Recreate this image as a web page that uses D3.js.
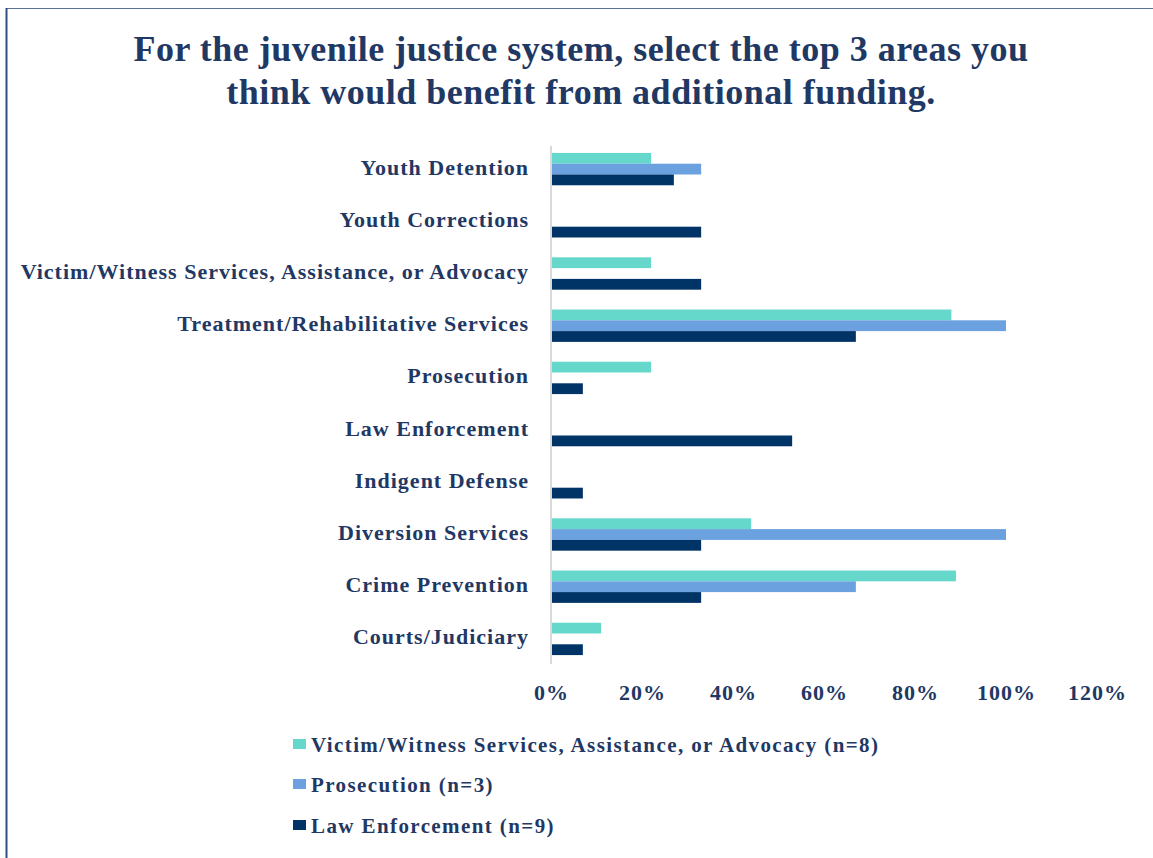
<!DOCTYPE html>
<html>
<head>
<meta charset="utf-8">
<script src="https://cdn.jsdelivr.net/npm/d3@7"></script>
<style>
  html, body { margin: 0; padding: 0; background: #fff; }
  text { font-family: "Liberation Serif", "Times New Roman", serif; font-weight: bold; fill: #1F3864; }
</style>
</head>
<body>
<svg id="chart" width="1153" height="858"></svg>
<script>
const categories = [
  "Youth Detention",
  "Youth Corrections",
  "Victim/Witness Services, Assistance, or Advocacy",
  "Treatment/Rehabilitative Services",
  "Prosecution",
  "Law Enforcement",
  "Indigent Defense",
  "Diversion Services",
  "Crime Prevention",
  "Courts/Judiciary"
];
const seriesNames = [
  "Victim/Witness Services, Assistance, or Advocacy (n=8)",
  "Prosecution (n=3)",
  "Law Enforcement (n=9)"
];
const victimValues = [0.22, 0, 0.22, 0.88, 0.22, 0, 0, 0.44, 0.89, 0.11];
const prosecutionValues = [0.33, 0, 0, 1.00, 0, 0, 0, 1.00, 0.67, 0];
const lawValues = [0.27, 0.33, 0.33, 0.67, 0.07, 0.53, 0.07, 0.33, 0.33, 0.07];
const tickValues = [0, 0.2, 0.4, 0.6, 0.8, 1.0, 1.2];
const titleLines = [
  "For the juvenile justice system, select the top 3 areas you",
  "think would benefit from additional funding."
];
const colors = ["#66D8CB", "#6CA1E0", "#003366"];

const allSeries = [victimValues, prosecutionValues, lawValues];

const svg = d3.select("#chart");

// frame
svg.append("line").attr("x1", 6).attr("x2", 1153).attr("y1", 8.5).attr("y2", 8.5)
  .attr("stroke", "#5B7396").attr("stroke-width", 1);
svg.append("line").attr("x1", 6.5).attr("x2", 6.5).attr("y1", 8).attr("y2", 858)
  .attr("stroke", "#2F4F7F").attr("stroke-width", 2);

// title
svg.append("g").selectAll("text").data(titleLines).join("text")
  .attr("x", 581).attr("y", (d, i) => 61 + i * 43)
  .attr("text-anchor", "middle")
  .style("font-size", "36px")
  .style("letter-spacing", "0.5px")
  .text(d => d);

const x = d3.scaleLinear().domain([0, 1.2]).range([551, 1097]);
const y = d3.scaleBand().domain(categories).range([143, 665]).paddingInner(0.38).paddingOuter(0.19);
const ySub = d3.scaleBand().domain(d3.range(allSeries.length)).range([0, y.bandwidth()]);

// axis line
svg.append("line").attr("x1", x(0)).attr("x2", x(0)).attr("y1", 146).attr("y2", 664)
  .attr("stroke", "#D9D9D9").attr("stroke-width", 2);

// bars
const groups = svg.append("g").selectAll("g").data(categories).join("g")
  .attr("transform", d => `translate(0,${y(d)})`);
groups.selectAll("rect")
  .data((c, ci) => allSeries.map((s, si) => ({ si, v: s[ci] })).filter(d => d.v > 0))
  .join("rect")
  .attr("x", x(0) + 1)
  .attr("y", d => ySub(d.si))
  .attr("width", d => x(d.v) - x(0) - 1)
  .attr("height", ySub.bandwidth())
  .attr("fill", d => colors[d.si]);

// category labels
const yAxis = d3.axisLeft(y).tickSize(0).tickPadding(0);
const yg = svg.append("g").attr("transform", `translate(529,-1.5)`).call(yAxis);
yg.select(".domain").remove();
yg.selectAll("text").style("font-size", "22px").style("fill", "#1F3864")
  .style("letter-spacing", "1px")
  .style("font-family", "'Liberation Serif', serif").style("font-weight", "bold");

// x ticks
const xAxis = d3.axisBottom(x).tickValues(tickValues).tickFormat(d3.format(".0%")).tickSize(0).tickPadding(0);
const xg = svg.append("g").attr("transform", `translate(0,684)`).call(xAxis);
xg.select(".domain").remove();
xg.selectAll("text").style("font-size", "22px").style("fill", "#1F3864")
  .style("letter-spacing", "1px")
  .style("font-family", "'Liberation Serif', serif").style("font-weight", "bold");

// legend
const leg = svg.append("g").selectAll("g").data(seriesNames).join("g")
  .attr("transform", (d, i) => `translate(293,${752 + [0, 40, 81][i]})`);
leg.append("rect").attr("x", 0).attr("y", -13).attr("width", 13).attr("height", 10)
  .attr("fill", (d, i) => colors[i]);
leg.append("text").attr("x", 18).attr("y", 0).style("font-size", "21px")
  .style("letter-spacing", "1.4px").text(d => d);
</script>
</body>
</html>
